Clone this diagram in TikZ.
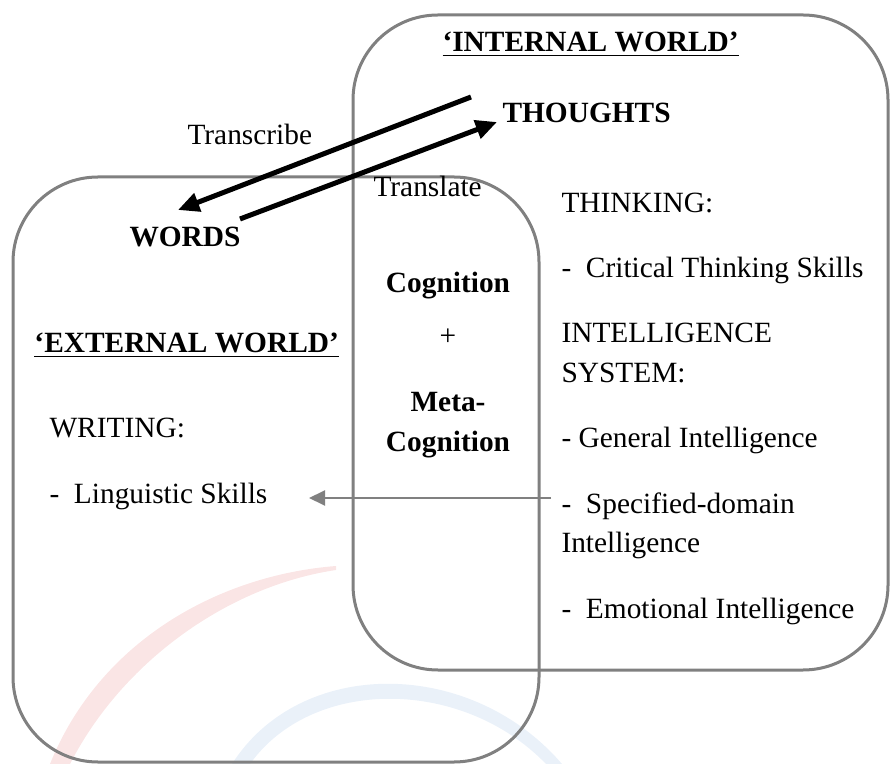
\documentclass[tikz,border=0pt]{standalone}
\usepackage{fontspec}
\setmainfont{Liberation Serif}
\usetikzlibrary{arrows.meta}
\definecolor{boxgray}{RGB}{128,128,128}
\definecolor{wmred}{RGB}{250,229,229}
\definecolor{wmblue}{RGB}{234,241,249}

\begin{document}
\begin{tikzpicture}[x=0.4pt,y=-0.4pt,
    world/.style={draw=boxgray,line width=1.2pt,rounded corners=34pt},
    lbl/.style={anchor=base west,inner sep=0pt,font=\fontsize{11.75}{16}\selectfont},
    bold/.style={lbl,font=\fontsize{11.75}{16}\selectfont\bfseries},
    mid/.style={anchor=base,inner sep=0pt,font=\fontsize{11.75}{16}\selectfont},
    midbold/.style={mid,font=\fontsize{11.75}{16}\selectfont\bfseries},
    flow/.style={line width=2pt,-{Triangle[length=8.5pt,width=7.5pt]}},
    skill/.style={draw=boxgray,line width=0.8pt,-{Triangle[length=6.4pt,width=6pt]}}]
    \useasboundingbox (0,0) rectangle (891,764);

    % faint watermark strokes
    \fill[wmred] (50,764) .. controls (100,640) and (220,575) .. (336,566)
        -- (336,570) .. controls (228,586) and (122,662) .. (70,764) -- cycle;
    \fill[wmblue] (232,764) .. controls (300,657) and (470,657) .. (562,764)
        -- (546,764) .. controls (462,677) and (312,677) .. (250,764) -- cycle;

    % the two worlds
    \draw[world] (13,177) rectangle (539,762);
    \draw[world] (353,15) rectangle (888,670);

    % headings
    \node[bold] (int) at (442,52) {\underline{`INTERNAL WORLD'}};
    \node[bold] (ext) at (34,353) {\underline{`EXTERNAL WORLD'}};
    \node[bold] (thoughts) at (502,123) {THOUGHTS};
    \node[bold] (words) at (129,247) {WORDS};

    % middle column
    \node[midbold] (cog) at (448,293) {Cognition};
    \node[mid] (plus) at (448,346) {+};
    \node[midbold] (meta) at (448,412) {Meta-};
    \node[midbold] (metacog) at (448,452) {Cognition};

    % plain labels
    \foreach \nm/\px/\py/\txt in {transcribe/187/145/Transcribe, translate/373/197/Translate,
        writing/49/437/WRITING:, ling/49/503/{-~~Linguistic Skills},
        thinking/561/213/THINKING:, crit/561/278/{-~~Critical Thinking Skills},
        intel/561/343/INTELLIGENCE, system/561/383/SYSTEM:,
        gen/561/448/{-~General Intelligence}, spec/561/513/{-~~Specified-domain},
        specb/561/552/Intelligence, emo/561/618/{-~~Emotional Intelligence}}
    \node[lbl] (\nm) at (\px,\py) {\txt};

    % arrow ends
    \coordinate (tcFrom) at (471,97);
    \coordinate (tcTo) at (178,210);
    \coordinate (tlFrom) at (240,219);
    \coordinate (tlTo) at (497,122);
    \coordinate (sdFrom) at (551,498);
    \coordinate (lsTo) at (309,498);

    \draw[flow] (tcFrom) -- (tcTo);
    \draw[flow] (tlFrom) -- (tlTo);
    \draw[skill] (sdFrom) -- (lsTo);
\end{tikzpicture}
\end{document}
